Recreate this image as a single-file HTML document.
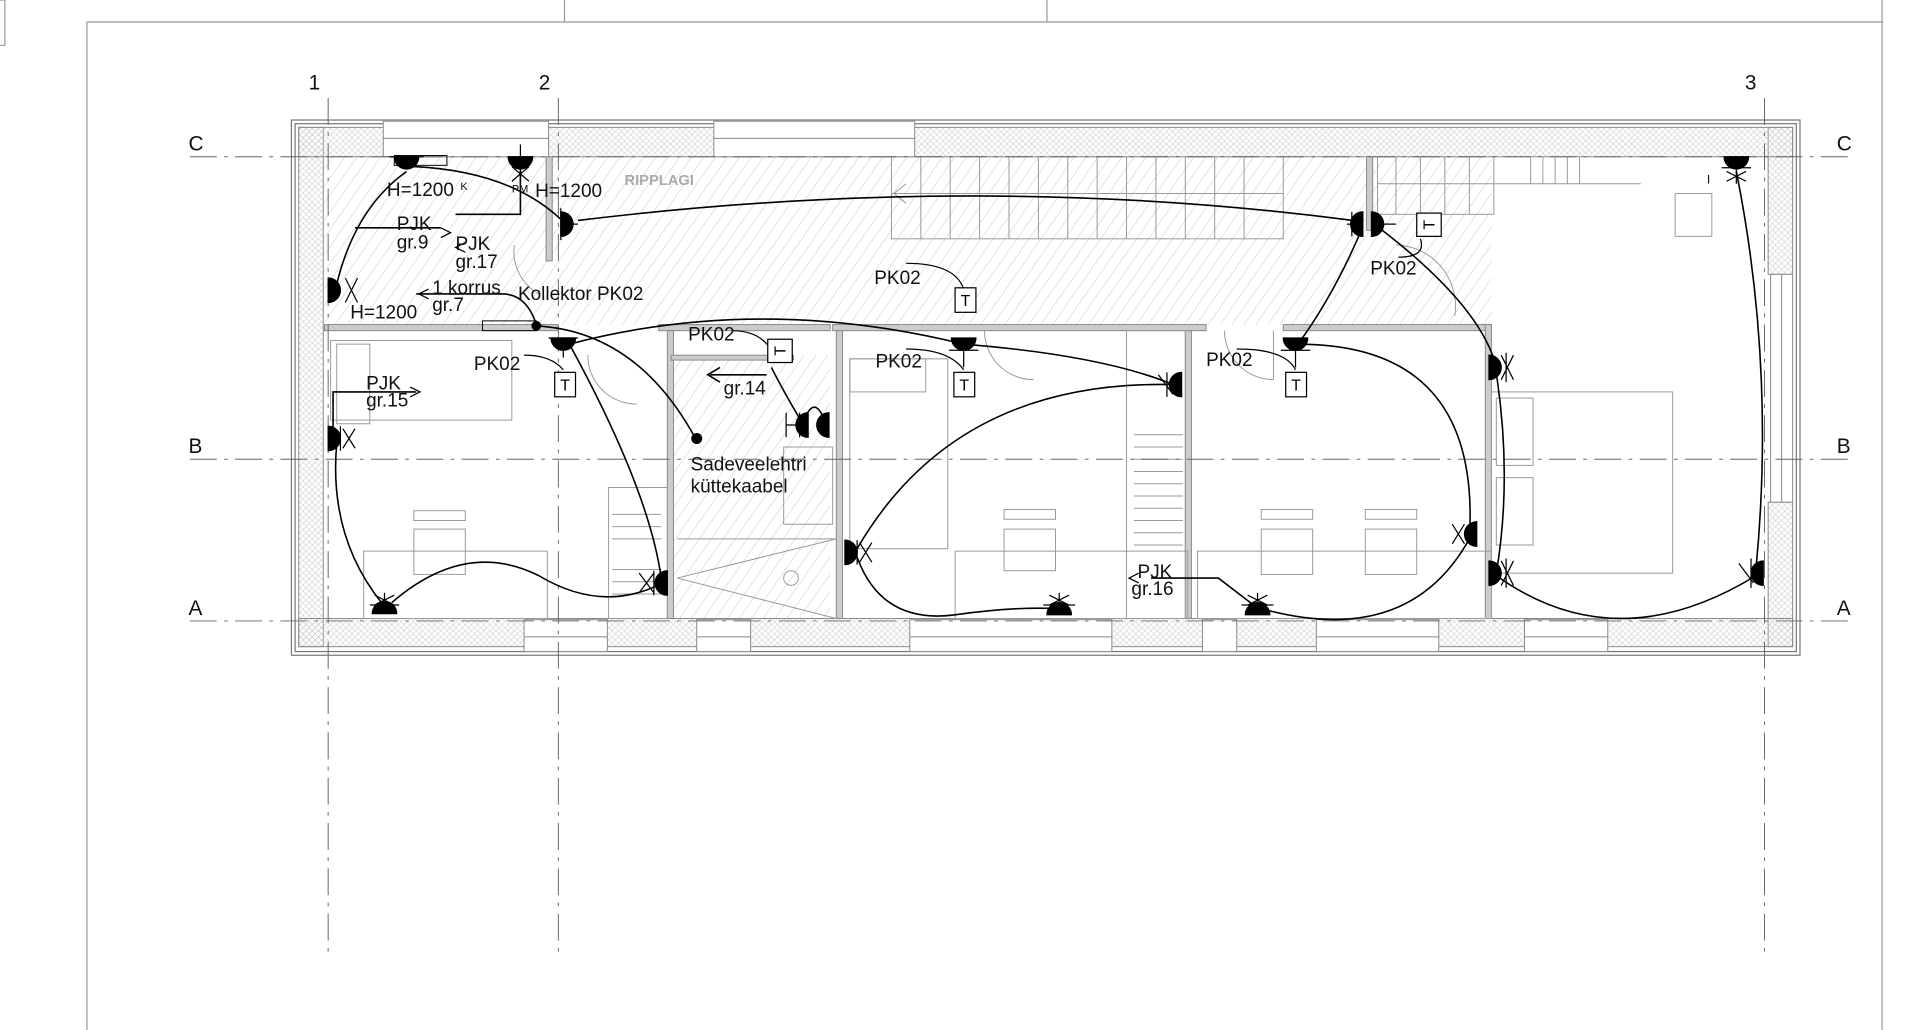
<!DOCTYPE html>
<html><head><meta charset="utf-8"><style>
html,body{margin:0;padding:0;background:#fff;}
svg{display:block;}
text{font-family:"Liberation Sans",sans-serif;}
</style></head><body>
<svg width="1920" height="1030" viewBox="0 0 1568 841" preserveAspectRatio="none" xmlns="http://www.w3.org/2000/svg">
<defs>
<pattern id="h" width="8" height="8" patternUnits="userSpaceOnUse" patternTransform="rotate(35)">
<line x1="0" y1="0" x2="0" y2="8" stroke="#c8c8c8" stroke-width="0.8"/></pattern>
<pattern id="x" width="5" height="5" patternUnits="userSpaceOnUse">
<path d="M0 0L5 5M5 0L0 5" stroke="#d2d2d2" stroke-width="0.5"/></pattern>
</defs>
<rect width="1568" height="841" fill="#fff"/>
<g stroke="#999" stroke-width="1" fill="none">
<line x1="71" y1="18" x2="1538" y2="18"/>
<line x1="71" y1="18" x2="71" y2="841"/>
<line x1="1537" y1="0" x2="1537" y2="841"/>
<line x1="461" y1="0" x2="461" y2="18"/>
<line x1="855" y1="0" x2="855" y2="18"/>
<path d="M0 0H4V37H0"/>
</g>
<rect x="265" y="128" width="953" height="137" fill="url(#h)"/>
<rect x="548" y="290" width="130" height="215" fill="url(#h)"/>
<text x="510" y="151" font-size="12" fill="#aaa" font-weight="bold">RIPPLAGI</text>
<g stroke="#777" fill="none" stroke-width="1">
<rect x="238" y="98" width="1232" height="437"/>
<rect x="241" y="101" width="1226" height="431"/>
</g>
<g fill="url(#x)" stroke="#888" stroke-width="0.8">
<rect x="244" y="104" width="20" height="424"/>
<rect x="1444" y="104" width="20" height="120"/>
<rect x="1444" y="410" width="20" height="118"/>
<rect x="244" y="104" width="1220" height="24"/>
<rect x="244" y="505" width="1220" height="23"/>
</g>
<g fill="#fff" stroke="#888" stroke-width="0.8">
<rect x="313" y="99" width="135" height="29"/><line x1="313" y1="113" x2="448" y2="113"/>
<rect x="583" y="99" width="164" height="29"/><line x1="583" y1="113" x2="747" y2="113"/>
<rect x="428" y="506" width="68" height="26"/><line x1="428" y1="520" x2="496" y2="520"/>
<rect x="569" y="506" width="44" height="26"/><line x1="569" y1="520" x2="613" y2="520"/>
<rect x="743" y="506" width="165" height="26"/><line x1="743" y1="520" x2="908" y2="520"/>
<rect x="982" y="506" width="28" height="26"/>
<rect x="1075" y="506" width="100" height="26"/><line x1="1075" y1="520" x2="1175" y2="520"/>
<rect x="1245" y="506" width="68" height="26"/><line x1="1245" y1="520" x2="1313" y2="520"/>
<rect x="1446" y="224" width="18" height="186"/><line x1="1455" y1="224" x2="1455" y2="410"/>
</g>
<g stroke="#888" fill="#ccc" stroke-width="0.8">
<rect x="265" y="265" width="190" height="5"/>
<rect x="538" y="265" width="140" height="5"/>
<rect x="680" y="265" width="305" height="5"/>
<rect x="1048" y="265" width="170" height="5"/>
<rect x="545" y="270" width="5" height="235"/>
<rect x="683" y="270" width="5" height="235"/>
<rect x="968" y="270" width="5" height="235"/>
<rect x="1213" y="265" width="5" height="240"/>
<rect x="446" y="128" width="5" height="85"/>
<rect x="1116" y="128" width="5" height="60"/>
<rect x="548" y="290" width="100" height="4"/>
</g>
<g stroke="#999" fill="none" stroke-width="0.8">
<rect x="728" y="128" width="320" height="67"/>
<path d="M752 128V195M776 128V195M800 128V195M824 128V195M848 128V195M872 128V195M896 128V195M920 128V195M944 128V195M968 128V195M992 128V195M1016 128V195"/>
<line x1="728" y1="158" x2="1048" y2="158"/>
<path d="M740 150L730 158L740 166"/>
<rect x="1125" y="128" width="95" height="47"/>
<line x1="1125" y1="150" x2="1340" y2="150"/>
<path d="M1140 128V175M1160 128V175M1180 128V175M1200 128V175M1250 128V150M1260 128V150M1270 128V150M1280 128V150M1290 128V150"/>
<rect x="1368" y="158" width="30" height="35"/>
<rect x="270" y="278" width="148" height="65"/>
<rect x="275" y="281" width="27" height="65"/>
<rect x="338" y="417" width="42" height="8"/><rect x="338" y="432" width="42" height="37"/>
<rect x="297" y="450" width="150" height="55"/>
<rect x="497" y="398" width="48" height="107"/>
<path d="M500 420H540M500 430H540M500 440H540M500 465H540M500 475H540M500 485H540"/>
<rect x="694" y="293" width="62" height="27"/>
<rect x="694" y="293" width="80" height="155"/>
<rect x="820" y="416" width="42" height="8"/><rect x="820" y="432" width="42" height="34"/>
<rect x="780" y="450" width="190" height="55"/>
<rect x="920" y="270" width="48" height="235"/>
<path d="M926 355H966M926 365H966M926 375H966M926 385H966M926 395H966M926 405H966M926 415H966M926 425H966M926 435H966M926 445H966"/>
<rect x="1030" y="416" width="42" height="8"/><rect x="1030" y="432" width="42" height="37"/>
<rect x="1115" y="416" width="42" height="8"/><rect x="1115" y="432" width="42" height="37"/>
<rect x="978" y="450" width="240" height="55"/>
<rect x="1218" y="320" width="148" height="148"/>
<rect x="1222" y="325" width="30" height="55"/><rect x="1222" y="390" width="30" height="55"/>
<rect x="640" y="365" width="40" height="63"/>
<path d="M553 440H683M553 472L683 440M553 472L683 505"/>
<circle cx="646" cy="472" r="6"/>
<path d="M1000 270A40 40 0 0 0 1040 310"/><path d="M1040 270V310"/>
<path d="M804 270A40 40 0 0 0 844 310"/>
<path d="M480 290A40 40 0 0 0 520 330"/>
<path d="M420 200A40 40 0 0 0 440 240"/>
<path d="M1140 200A50 50 0 0 1 1188 258"/>
</g>
<g stroke="#666" stroke-width="0.8" fill="none" stroke-dasharray="22 6 3 6">
<line x1="268" y1="80" x2="268" y2="780"/>
<line x1="456" y1="80" x2="456" y2="780"/>
<line x1="1441" y1="80" x2="1441" y2="780"/>
<line x1="155" y1="128" x2="1515" y2="128"/>
<line x1="155" y1="375" x2="1515" y2="375"/>
<line x1="155" y1="507" x2="1515" y2="507"/>
</g>
<g font-size="17" fill="#111">
<text x="252" y="73">1</text><text x="440" y="73">2</text><text x="1425" y="73">3</text>
<text x="154" y="123">C</text><text x="1500" y="123">C</text>
<text x="154" y="370">B</text><text x="1500" y="370">B</text>
<text x="154" y="502">A</text><text x="1500" y="502">A</text>
</g>
<g stroke="#000" stroke-width="1.3" fill="none">
<path d="M338 136Q420 140 462 183"/>
<path d="M472 180Q800 140 1105 180"/>
<path d="M332 140Q290 170 275 232"/>
<path d="M425 135V175H372"/>
<path d="M290 186H360"/>
<path d="M340 240H410Q430 240 438 265"/>
<path d="M437 266Q520 270 568 358"/>
<path d="M465 281Q530 400 540 472"/>
<path d="M465 281Q620 240 787 281"/>
<path d="M275 362Q268 440 314 495"/>
<path d="M320 492Q380 440 440 470Q490 500 537 478"/>
<path d="M787 281Q900 290 958 314"/>
<path d="M958 314Q780 310 700 448"/>
<path d="M700 455Q720 510 780 502Q830 495 865 497"/>
<path d="M1030 497Q1150 530 1200 440"/>
<path d="M1058 281Q1210 280 1200 440"/>
<path d="M1113 185Q1090 240 1060 281"/>
<path d="M1125 185Q1210 250 1222 300"/>
<path d="M1222 305Q1235 390 1222 468"/>
<path d="M1222 470Q1320 540 1434 470"/>
<path d="M1418 140Q1450 300 1434 465"/>
<path d="M655 345Q640 320 630 300"/>
<path d="M658 340Q665 325 672 340"/>
<path d="M626 306H580M588 300L578 306L588 312"/>
<path d="M940 472H995L1025 495"/>
<path d="M272 360V320H340"/>
</g>
<g stroke="#000" stroke-width="1" fill="none">
<path d="M360 186l8 4l-8 4M380 198l-8 4l8 4M350 236l-8 4l8 4M335 316l8 4l-8 4M930 468l-8 4l8 4"/>
<path d="M460 302Q450 290 428 290M787 302Q775 285 740 285M1058 302Q1050 285 1010 285M631 288Q622 270 598 270M787 236Q780 215 740 215M1160 195Q1165 210 1142 210"/>
</g>
<circle cx="438" cy="266" r="4" fill="#000"/>
<circle cx="569" cy="358" r="4.5" fill="#000"/>
<rect x="394" y="262" width="44" height="8" fill="none" stroke="#000" stroke-width="0.8"/>
<rect x="322" y="127" width="43" height="8" fill="none" stroke="#000" stroke-width="0.8"/>
<g fill="#000" stroke="#000" stroke-width="1">
<path d="M322 128A10 10 0 0 0 342 128Z"/><line x1="318" y1="128" x2="346" y2="128"/>
<path d="M415 128A10 10 0 0 0 435 128Z"/><path d="M425 118V150M418 148L432 136M432 148L418 136"/>
<path d="M458 173A10 10 0 0 1 458 193Z"/><path d="M458 170V196M458 183H472"/>
<path d="M268 227A10 10 0 0 1 268 247Z"/><path d="M282 227L292 247M292 227L282 247"/>
<path d="M450 276A10 10 0 0 0 470 276Z"/><path d="M448 276H472M460 276V292"/>
<path d="M268 348A10 10 0 0 1 268 368Z"/><path d="M278 348V368M280 350L290 366M290 350L280 366"/>
<path d="M304 501A10 10 0 0 1 324 501Z"/><path d="M302 494H326M314 484V494M306 486L322 494M322 486L306 494"/>
<path d="M545 466A10 10 0 0 0 545 486Z"/><path d="M534 466V486M522 468L534 484M522 484L534 468"/>
<path d="M660 337A10 10 0 0 0 660 357Z"/><path d="M677 337A10 10 0 0 0 677 357Z"/><path d="M642 337V357M642 347H660M653 337V357"/>
<path d="M777 276A10 10 0 0 0 797 276Z"/><path d="M775 286H799M787 286V300"/>
<path d="M965 304A10 10 0 0 0 965 324Z"/><path d="M953 304V324M946 306L958 322"/>
<path d="M690 441A10 10 0 0 1 690 461Z"/><path d="M700 441V461M702 443L712 459M712 443L702 459"/>
<path d="M855 502A10 10 0 0 1 875 502Z"/><path d="M852 494H878M865 484V494M857 486L873 494M873 486L857 494"/>
<path d="M1017 502A10 10 0 0 1 1037 502Z"/><path d="M1014 494H1040M1027 484V494M1019 486L1035 494M1035 486L1019 494"/>
<path d="M1048 276A10 10 0 0 0 1068 276Z"/><path d="M1046 286H1070M1058 286V300"/>
<path d="M1113 173A10 10 0 0 0 1113 193Z"/><path d="M1120 173A10 10 0 0 1 1120 193Z"/><path d="M1100 183H1108M1104 173V193M1127 183H1140"/>
<path d="M1216 290A10 10 0 0 1 1216 310Z"/><path d="M1226 290L1236 310M1236 290L1226 310M1230 288V312"/>
<path d="M1206 426A10 10 0 0 0 1206 446Z"/><path d="M1196 428L1186 444M1186 428L1196 444"/>
<path d="M1216 458A10 10 0 0 1 1216 478Z"/><path d="M1226 458L1236 478M1236 458L1226 478M1230 456V480"/>
<path d="M1408 128A10 10 0 0 0 1428 128Z"/><path d="M1406 137H1430M1418 128V150M1410 140L1426 148M1426 140L1410 148"/>
<path d="M1440 458A10 10 0 0 0 1440 478Z"/><path d="M1430 456V480M1420 460L1432 476"/>
</g>
<g fill="#fff" stroke="#000" stroke-width="1">
<rect x="453" y="304" width="17" height="20"/><rect x="780" y="235" width="17" height="20"/>
<rect x="779" y="304" width="17" height="20"/><rect x="1050" y="304" width="17" height="20"/>
<rect x="627" y="277" width="20" height="19"/><rect x="1157" y="174" width="20" height="19"/>
</g>
<g font-size="13" fill="#000" text-anchor="middle">
<text x="461.5" y="319">T</text><text x="788.5" y="250">T</text><text x="787.5" y="319">T</text><text x="1058.5" y="319">T</text>
<text x="637" y="291" transform="rotate(-90 637 286.5)">T</text>
<text x="1167" y="188" transform="rotate(-90 1167 183.5)">T</text>
</g>
<g font-size="15.5" fill="#111">
<text x="316" y="160">H=1200</text><text x="376" y="155" font-size="9">K</text>
<text x="418" y="157" font-size="9">PM</text><text x="437" y="161">H=1200</text>
<text x="324" y="188">PJK</text><text x="324" y="203">gr.9</text>
<text x="372" y="204">PJK</text><text x="372" y="219">gr.17</text>
<text x="353" y="240">1 korrus</text><text x="353" y="254">gr.7</text>
<text x="423" y="245">Kollektor PK02</text>
<text x="286" y="260">H=1200</text>
<text x="387" y="302">PK02</text>
<text x="299" y="318">PJK</text><text x="299" y="332">gr.15</text>
<text x="562" y="278">PK02</text>
<text x="591" y="322">gr.14</text>
<text x="564" y="384">Sadeveelehtri</text><text x="564" y="402">küttekaabel</text>
<text x="714" y="232">PK02</text>
<text x="715" y="300">PK02</text>
<text x="985" y="299">PK02</text>
<text x="1119" y="224">PK02</text>
<text x="929" y="472">PJK</text><text x="924" y="486">gr.16</text>
<text x="1394" y="150" font-size="10">I</text>
</g>
</svg>
</body></html>
